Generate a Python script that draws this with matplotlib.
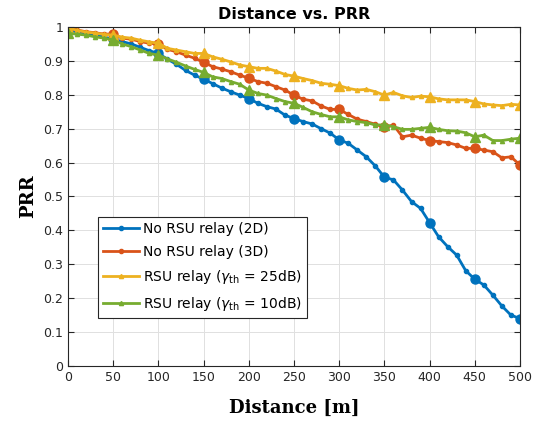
import matplotlib
matplotlib.use('Agg')
import matplotlib.pyplot as plt
import numpy as np

distance = np.arange(0, 501, 10)

prr_2d = [0.990, 0.986, 0.982, 0.977, 0.970, 0.964, 0.957, 0.950, 0.940, 0.930,
          0.922, 0.905, 0.890, 0.872, 0.858, 0.846, 0.833, 0.820, 0.809, 0.799,
          0.789, 0.775, 0.765, 0.758, 0.740, 0.730, 0.721, 0.714, 0.700, 0.687,
          0.667, 0.657, 0.637, 0.617, 0.590, 0.557, 0.549, 0.519, 0.485, 0.465,
          0.423, 0.381, 0.352, 0.327, 0.281, 0.256, 0.239, 0.209, 0.177, 0.150,
          0.140]
prr_3d = [1.000, 0.991, 0.986, 0.983, 0.979, 0.979, 0.967, 0.964, 0.957, 0.952,
          0.950, 0.934, 0.927, 0.917, 0.908, 0.896, 0.883, 0.876, 0.868, 0.858,
          0.849, 0.839, 0.834, 0.824, 0.814, 0.799, 0.787, 0.782, 0.767, 0.757,
          0.757, 0.742, 0.728, 0.721, 0.713, 0.704, 0.711, 0.676, 0.681, 0.672,
          0.665, 0.662, 0.659, 0.652, 0.642, 0.642, 0.637, 0.632, 0.614, 0.617,
          0.593]
prr_25db = [0.998, 0.990, 0.985, 0.982, 0.978, 0.976, 0.970, 0.967, 0.961, 0.956,
            0.952, 0.937, 0.932, 0.927, 0.922, 0.922, 0.912, 0.905, 0.897, 0.888,
            0.883, 0.878, 0.878, 0.870, 0.860, 0.855, 0.848, 0.842, 0.834, 0.831,
            0.827, 0.819, 0.814, 0.816, 0.809, 0.799, 0.807, 0.797, 0.792, 0.796,
            0.794, 0.788, 0.785, 0.785, 0.785, 0.780, 0.773, 0.770, 0.768, 0.772,
            0.770]
prr_10db = [0.981, 0.979, 0.976, 0.971, 0.967, 0.962, 0.950, 0.942, 0.932, 0.922,
            0.917, 0.906, 0.896, 0.885, 0.875, 0.866, 0.853, 0.848, 0.839, 0.831,
            0.814, 0.804, 0.799, 0.789, 0.780, 0.775, 0.763, 0.750, 0.742, 0.735,
            0.735, 0.726, 0.721, 0.718, 0.711, 0.711, 0.706, 0.698, 0.698, 0.701,
            0.704, 0.698, 0.694, 0.693, 0.688, 0.676, 0.681, 0.665, 0.665, 0.669,
            0.672]

series = [
    (prr_2d, 'No RSU relay (2D)', '#0072BD', 'o'),
    (prr_3d, 'No RSU relay (3D)', '#D95319', 'o'),
    (prr_25db, r'RSU relay ($\gamma_{\mathrm{th}}$ = 25dB)', '#EDB120', '^'),
    (prr_10db, r'RSU relay ($\gamma_{\mathrm{th}}$ = 10dB)', '#77AC30', '^'),
]

fig = plt.figure(figsize=(5.38, 4.23), dpi=100)
ax = fig.add_axes([0.1264, 0.1348, 0.8401, 0.8014])

handles = []
for vals, label, color, mk in series:
    vals = np.array(vals)
    h, = ax.plot(distance, vals, color=color, lw=2, marker=mk, markersize=3,
                 label=label)
    ax.plot(distance[::5], vals[::5], ls='none', marker=mk, markersize=6.5,
            color=color)
    handles.append(h)

ax.set_xlim(0, 500)
ax.set_ylim(0, 1)
ax.set_xticks(np.arange(0, 501, 50))
ax.set_yticks(np.arange(0, 1.01, 0.1))
ax.set_yticklabels(['0', '0.1', '0.2', '0.3', '0.4', '0.5', '0.6', '0.7', '0.8', '0.9', '1'])
ax.grid(True, color='#e0e0e0', lw=0.7)
ax.tick_params(direction='in', top=True, right=True, labelsize=9, colors='#262626',
               length=4)
for s in ax.spines.values():
    s.set_color('#262626')
    s.set_linewidth(0.8)

ax.set_title('Distance vs. PRR', fontsize=11.5, fontweight='bold', pad=6)
ax.set_xlabel('Distance [m]', fontsize=13, fontweight='bold', family='DejaVu Serif',
              labelpad=11)
ax.set_ylabel('PRR', fontsize=13, fontweight='bold', family='DejaVu Serif', labelpad=4)

leg = ax.legend(handles=handles, loc='lower left', bbox_to_anchor=(0.066, 0.142),
                fontsize=10, handlelength=2.6, handletextpad=0.3, borderpad=0.35,
                labelspacing=0.65, fancybox=False, framealpha=1,
                edgecolor='#262626', borderaxespad=0)
leg.get_frame().set_linewidth(0.8)

fig.savefig('out.png', dpi=100)
